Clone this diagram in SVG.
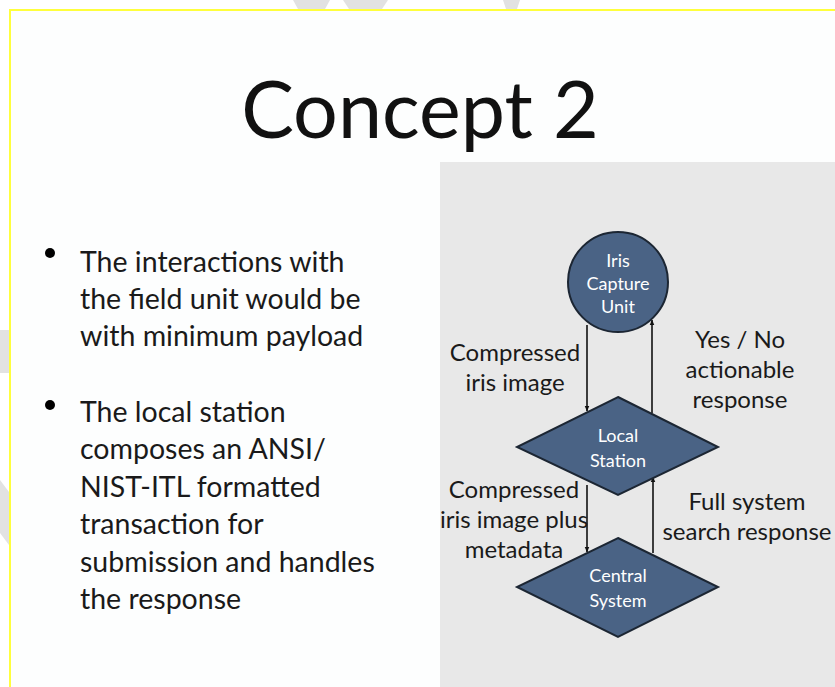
<svg xmlns="http://www.w3.org/2000/svg" width="835" height="687" viewBox="0 0 835 687">
<defs>
<style>
.wm{fill:#e2e2e2}
.title{font-family:Lato,"Open Sans",sans-serif;font-size:79px;fill:#111}
.body{font-family:Lato,"Open Sans",sans-serif;font-size:28.5px;fill:#1a1a1a}
.lbl{font-family:Lato,"Open Sans",sans-serif;font-size:24px;fill:#1a1a1a;text-anchor:middle}
.nl{font-family:Lato,"Open Sans",sans-serif;font-size:18px;fill:#ffffff;text-anchor:middle}
.node{fill:#4a6385;stroke:#1c2633;stroke-width:2}
.conn{stroke:#111;stroke-width:1.6;fill:none;marker-end:url(#ah)}
</style>
<marker id="ah" viewBox="0 0 10 10" refX="9" refY="5" markerWidth="6" markerHeight="6" orient="auto" markerUnits="userSpaceOnUse">
<path d="M0,1 L10,5 L0,9 z" fill="#111"/>
</marker>
</defs>
<rect width="835" height="687" fill="#ffffff"/>
<g id="watermark">
<polygon class="wm" points="293,0 330,0 325,9 298,9"/>
<polygon class="wm" points="343,0 388,0 382,9 349,9"/>
<polygon class="wm" points="503,0 520,0 517,9 506,9"/>
<polygon class="wm" points="0,330 9,330 9,373 0,373"/>
<polygon class="wm" points="0,480 9,492 9,545 0,533"/>
</g>
<rect x="10" y="10" width="835" height="690" fill="#fdfefe" stroke="#ffff3c" stroke-width="2"/>
<rect id="panel" x="440" y="162" width="395" height="525" fill="#e8e8e8"/>
<text class="title" x="420" y="138" text-anchor="middle">Concept 2</text>
<g id="bullets">
<circle cx="50" cy="253" r="5" fill="#000"/>
<circle cx="50" cy="405" r="5" fill="#000"/>
<text class="body" x="80" y="272">The interactions with</text>
<text class="body" x="80" y="309">the field unit would be</text>
<text class="body" x="80" y="346">with minimum payload</text>
<text class="body" x="80" y="422">The local station</text>
<text class="body" x="80" y="459">composes an ANSI/</text>
<text class="body" x="80" y="497">NIST-ITL formatted</text>
<text class="body" x="80" y="534">transaction for</text>
<text class="body" x="80" y="572">submission and handles</text>
<text class="body" x="80" y="609">the response</text>
</g>
<g id="connectors">
<line class="conn" x1="587" y1="325" x2="587" y2="411"/>
<line class="conn" x1="652" y1="413" x2="652" y2="320"/>
<line class="conn" x1="587" y1="485" x2="587" y2="552"/>
<line class="conn" x1="653" y1="553" x2="653" y2="477"/>
</g>
<g id="edge-labels">
<text class="lbl" x="515" y="361">Compressed</text>
<text class="lbl" x="515" y="391">iris image</text>
<text class="lbl" x="740" y="348">Yes / No</text>
<text class="lbl" x="740" y="378">actionable</text>
<text class="lbl" x="740" y="408">response</text>
<text class="lbl" x="514" y="498">Compressed</text>
<text class="lbl" x="514" y="528">iris image plus</text>
<text class="lbl" x="514" y="558">metadata</text>
<text class="lbl" x="747" y="510">Full system</text>
<text class="lbl" x="747" y="540">search response</text>
</g>
<g id="iris-capture-unit">
<circle class="node" cx="618" cy="282" r="50"/>
<text class="nl" x="618" y="267">Iris</text>
<text class="nl" x="618" y="290">Capture</text>
<text class="nl" x="618" y="313">Unit</text>
</g>
<g id="local-station">
<polygon class="node" points="618,397 718,447 618,495 517,447"/>
<text class="nl" x="618" y="442">Local</text>
<text class="nl" x="618" y="467">Station</text>
</g>
<g id="central-system">
<polygon class="node" points="618,538 718,587 618,637 517,587"/>
<text class="nl" x="618" y="582">Central</text>
<text class="nl" x="618" y="607">System</text>
</g>
</svg>
